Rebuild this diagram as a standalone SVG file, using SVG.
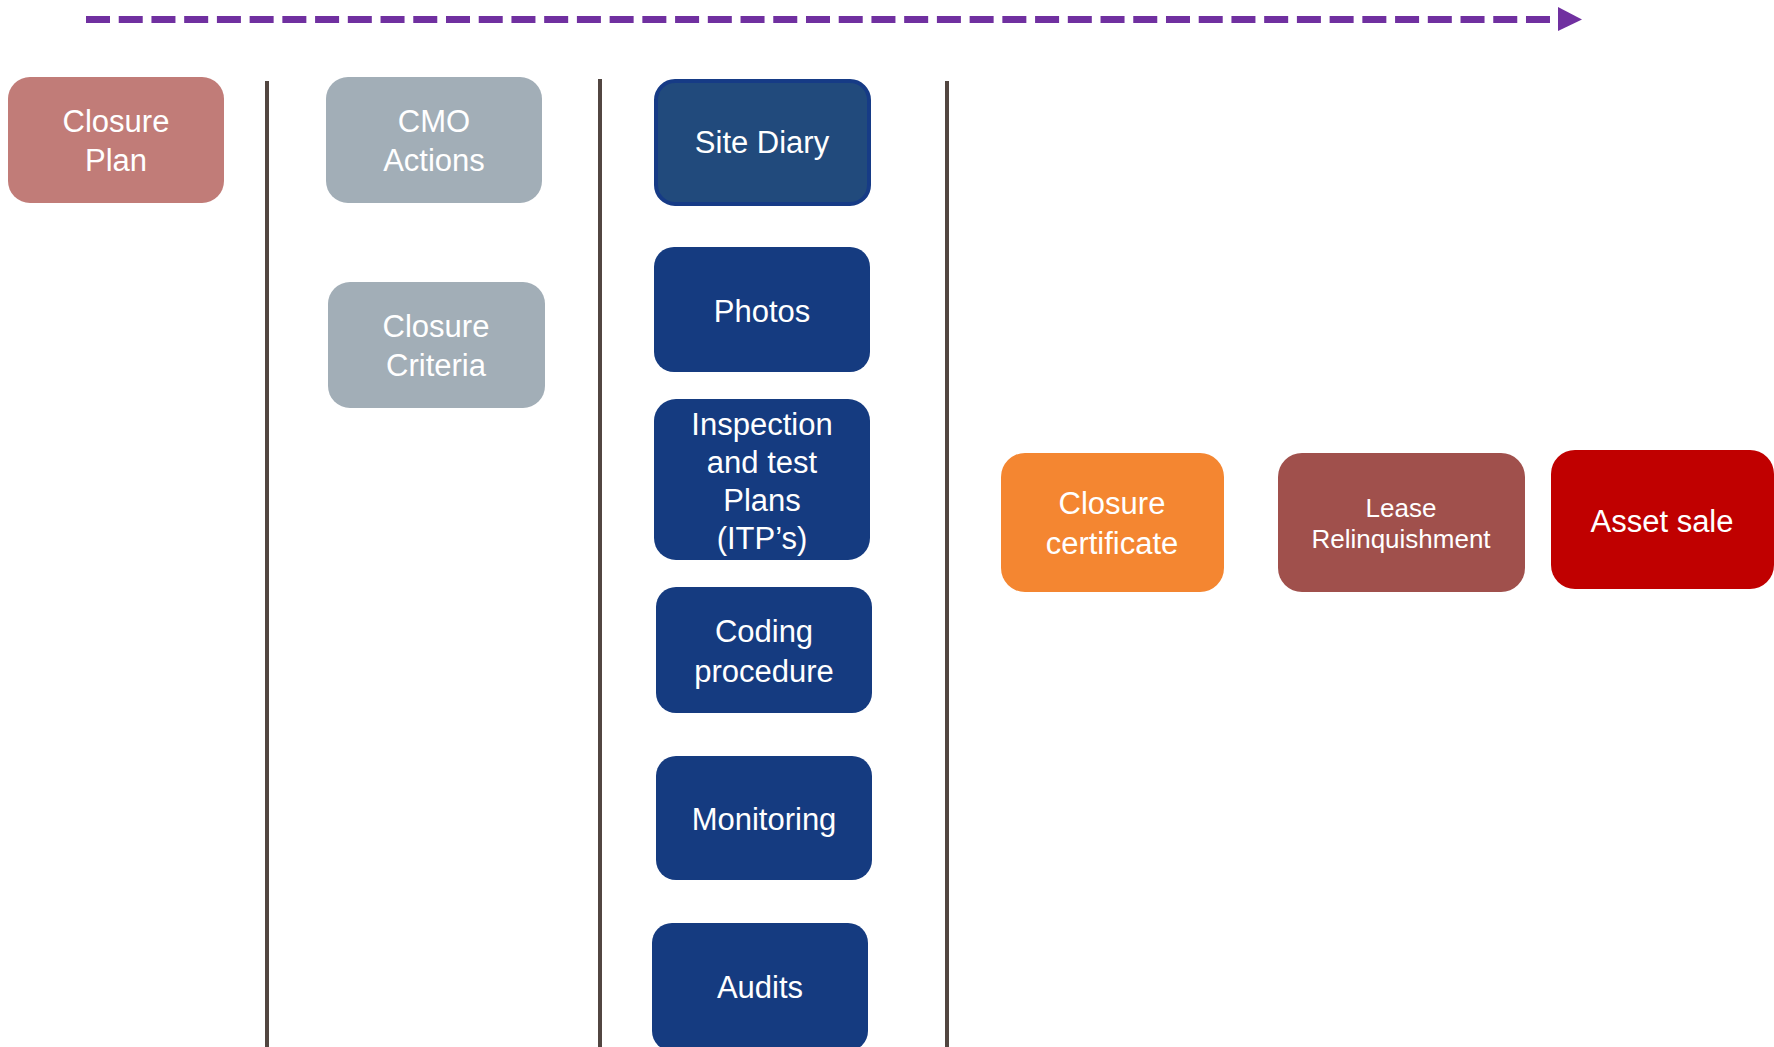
<svg xmlns="http://www.w3.org/2000/svg" width="1774" height="1047" viewBox="0 0 1774 1047">
<defs>
<style>
.t{font-family:"Liberation Sans",Arial,sans-serif;fill:#FFFFFF;text-anchor:middle;font-size:31px}
.s{font-size:26px}
.blue{fill:#153B80}
.gray{fill:#A2AEB7}
.sep{stroke:#524641;stroke-width:4}
</style>
</defs>
<rect x="0" y="0" width="1774" height="1047" fill="#FFFFFF"/>
<g id="connectors">
<line x1="86" y1="19.5" x2="1550" y2="19.5" stroke="#7030A0" stroke-width="7" stroke-dasharray="24 8.727"/>
<polygon points="1558,7 1582,19.5 1558,31" fill="#7030A0"/>
<line class="sep" x1="267" y1="81" x2="267" y2="1047"/>
<line class="sep" x1="600" y1="79" x2="600" y2="1047"/>
<line class="sep" x1="947" y1="81" x2="947" y2="1047"/>
</g>
<g id="closure-plan">
<rect x="8" y="77" width="216" height="126" rx="22" fill="#C17C78"/>
<text class="t" x="116" y="132">Closure</text>
<text class="t" x="116" y="171">Plan</text>
</g>
<g id="cmo-actions">
<rect class="gray" x="326" y="77" width="216" height="126" rx="22"/>
<text class="t" x="434" y="132">CMO</text>
<text class="t" x="434" y="171">Actions</text>
</g>
<g id="closure-criteria">
<rect class="gray" x="328" y="282" width="217" height="126" rx="22"/>
<text class="t" x="436" y="337">Closure</text>
<text class="t" x="436" y="376">Criteria</text>
</g>
<g id="site-diary">
<rect x="656" y="81" width="213" height="123" rx="19" fill="#214A7C" stroke="#163B86" stroke-width="4"/>
<text class="t" x="762" y="153">Site Diary</text>
</g>
<g id="photos">
<rect class="blue" x="654" y="247" width="216" height="125" rx="20"/>
<text class="t" x="762" y="322">Photos</text>
</g>
<g id="itps">
<rect class="blue" x="654" y="399" width="216" height="161" rx="22"/>
<text class="t" x="762" y="435">Inspection</text>
<text class="t" x="762" y="473">and test</text>
<text class="t" x="762" y="511">Plans</text>
<text class="t" x="762" y="549">(ITP’s)</text>
</g>
<g id="coding-procedure">
<rect class="blue" x="656" y="587" width="216" height="126" rx="20"/>
<text class="t" x="764" y="642">Coding</text>
<text class="t" x="764" y="682">procedure</text>
</g>
<g id="monitoring">
<rect class="blue" x="656" y="756" width="216" height="124" rx="20"/>
<text class="t" x="764" y="830">Monitoring</text>
</g>
<g id="audits">
<rect class="blue" x="652" y="923" width="216" height="128" rx="20"/>
<text class="t" x="760" y="998">Audits</text>
</g>
<g id="closure-certificate">
<rect x="1001" y="453" width="223" height="139" rx="24" fill="#F48631"/>
<text class="t" x="1112" y="514">Closure</text>
<text class="t" x="1112" y="554">certificate</text>
</g>
<g id="lease-relinquishment">
<rect x="1278" y="453" width="247" height="139" rx="24" fill="#A0504C"/>
<text class="t s" x="1401" y="517">Lease</text>
<text class="t s" x="1401" y="548">Relinquishment</text>
</g>
<g id="asset-sale">
<rect x="1551" y="450" width="223" height="139" rx="24" fill="#C00000"/>
<text class="t" x="1662" y="532">Asset sale</text>
</g>
</svg>
